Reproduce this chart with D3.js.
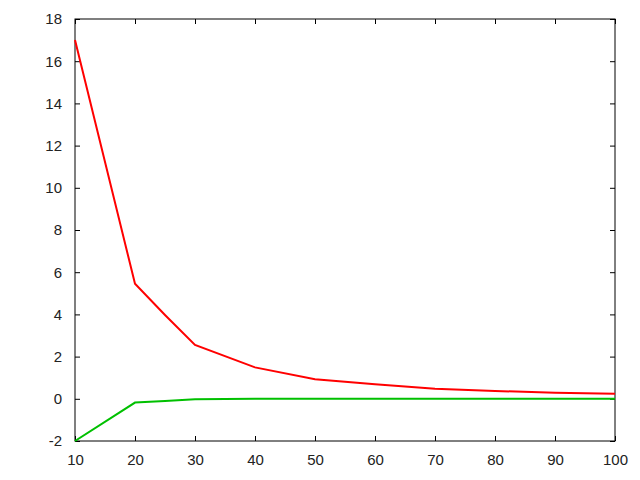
<!DOCTYPE html>
<html>
<head>
<meta charset="utf-8">
<script src="https://cdn.jsdelivr.net/npm/d3@7"></script>
<style>
  body { margin: 0; background: #fff; }
  svg text { font-family: "Liberation Sans", Arial, sans-serif; font-size: 15px; fill: #222; }
</style>
</head>
<body>
<svg id="chart" width="640" height="480"></svg>
<script>
var XS = [10, 20, 25, 30, 40, 50, 60, 70, 80, 90, 100];
var RED = [17, 5.45, 3.97, 2.55, 1.49, 0.93, 0.69, 0.48, 0.37, 0.29, 0.24];
var GREEN = [-2, -0.18, -0.1, -0.02, 0.0, 0.0, 0.0, 0.0, 0.0, 0.0, 0.0];
var X_TICKS = [10, 20, 30, 40, 50, 60, 70, 80, 90, 100];
var Y_TICKS = [-2, 0, 2, 4, 6, 8, 10, 12, 14, 16, 18];

document.addEventListener("DOMContentLoaded", function() {
  drawChart();
})

function drawChart(){
  const chart = d3.select("#chart"),
    left = 75, right = 615, top = 19, bottom = 441;

  const x = d3.scaleLinear().domain([10, 100]).range([left, right]);
  const y = d3.scaleLinear().domain([-2, 18]).range([bottom, top]);
  const plain = (d) => (String(d));

  // inward ticks on all four sides, labels on left and bottom only
  chart.append("g")
    .attr("transform", "translate(0," + bottom + ")")
    .call(d3.axisBottom(x).tickValues(X_TICKS).tickSizeInner(-5).tickSizeOuter(0).tickPadding(13).tickFormat(plain));
  chart.append("g")
    .attr("transform", "translate(0," + top + ")")
    .call(d3.axisTop(x).tickValues(X_TICKS).tickSizeInner(-5).tickSizeOuter(0).tickFormat(""));
  chart.append("g")
    .attr("transform", "translate(" + left + ",0)")
    .call(d3.axisLeft(y).tickValues(Y_TICKS).tickSizeInner(-5).tickSizeOuter(0).tickPadding(13).tickFormat(plain));
  chart.append("g")
    .attr("transform", "translate(" + right + ",0)")
    .call(d3.axisRight(y).tickValues(Y_TICKS).tickSizeInner(-5).tickSizeOuter(0).tickFormat(""));

  chart.selectAll(".domain").remove();
  chart.selectAll(".tick line").attr("stroke", "#000").attr("stroke-width", 1);
  chart.selectAll(".tick text").attr("font-family", null).attr("font-size", null).attr("fill", null);

  chart.append("rect")
    .attr("x", left).attr("y", top)
    .attr("width", right - left).attr("height", bottom - top)
    .attr("fill", "none").attr("stroke", "#000").attr("stroke-width", 1);

  const line = d3.line()
    .x((d) => (x(d[0])))
    .y((d) => (y(d[1])));

  chart.append("path")
    .datum(XS.map((v, i) => [v, RED[i]]))
    .attr("d", line)
    .attr("fill", "none").attr("stroke", "#ff0000").attr("stroke-width", 2);

  chart.append("path")
    .datum(XS.map((v, i) => [v, GREEN[i]]))
    .attr("d", line)
    .attr("fill", "none").attr("stroke", "#00c000").attr("stroke-width", 2);
}
</script>
</body>
</html>
